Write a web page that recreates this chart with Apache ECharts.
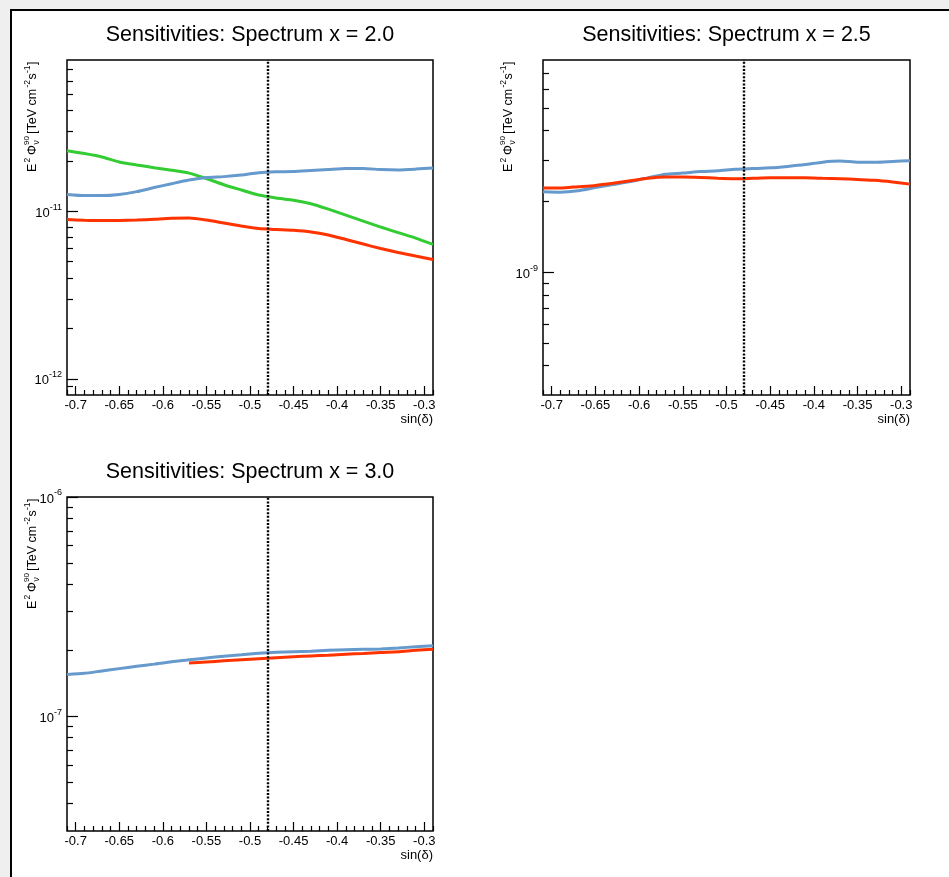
<!DOCTYPE html>
<html>
<head>
<meta charset="utf-8">
<script src="https://cdn.jsdelivr.net/npm/echarts@6/dist/echarts.min.js"></script>
<style>
html,body{margin:0;padding:0;background:#efefef;}
#main{width:949px;height:877px;}
</style>
</head>
<body>
<div id="main"></div>
<script>
// sin(dec) points the curves were read at
var sinDec = [-0.71,-0.69,-0.67,-0.65,-0.63,-0.61,-0.59,-0.57,-0.55,-0.53,-0.51,
              -0.49,-0.47,-0.45,-0.43,-0.41,-0.39,-0.37,-0.35,-0.33,-0.31,-0.29];

// spectrum x = 2.0
var x20Blue  = [1.26e-11,1.24e-11,1.24e-11,1.26e-11,1.31e-11,1.385e-11,1.46e-11,1.535e-11,1.59e-11,1.61e-11,1.645e-11,
                1.70e-11,1.72e-11,1.725e-11,1.75e-11,1.775e-11,1.80e-11,1.80e-11,1.775e-11,1.765e-11,1.785e-11,1.815e-11];
var x20Green = [2.30e-11,2.21e-11,2.11e-11,1.97e-11,1.89e-11,1.82e-11,1.76e-11,1.69e-11,1.57e-11,1.44e-11,1.34e-11,
                1.25e-11,1.20e-11,1.165e-11,1.11e-11,1.03e-11,9.49e-12,8.74e-12,8.05e-12,7.46e-12,6.92e-12,6.35e-12];
var x20Red   = [8.92e-12,8.84e-12,8.80e-12,8.82e-12,8.86e-12,8.96e-12,9.07e-12,9.11e-12,8.86e-12,8.50e-12,8.16e-12,
                7.88e-12,7.78e-12,7.70e-12,7.53e-12,7.21e-12,6.78e-12,6.37e-12,5.99e-12,5.67e-12,5.40e-12,5.15e-12];
// spectrum x = 2.5
var x25Blue  = [2.20e-9,2.19e-9,2.22e-9,2.29e-9,2.36e-9,2.43e-9,2.52e-9,2.61e-9,2.64e-9,2.68e-9,2.70e-9,
                2.74e-9,2.76e-9,2.78e-9,2.82e-9,2.87e-9,2.94e-9,2.97e-9,2.94e-9,2.94e-9,2.96e-9,2.98e-9];
var x25Red   = [2.28e-9,2.28e-9,2.31e-9,2.34e-9,2.39e-9,2.45e-9,2.51e-9,2.54e-9,2.54e-9,2.53e-9,2.51e-9,
                2.50e-9,2.51e-9,2.52e-9,2.52e-9,2.52e-9,2.51e-9,2.50e-9,2.48e-9,2.46e-9,2.42e-9,2.37e-9];
// spectrum x = 3.0
var x30Blue  = [1.55e-7,1.57e-7,1.61e-7,1.65e-7,1.69e-7,1.73e-7,1.775e-7,1.81e-7,1.845e-7,1.88e-7,1.91e-7,
                1.94e-7,1.96e-7,1.97e-7,1.98e-7,2.00e-7,2.01e-7,2.02e-7,2.03e-7,2.05e-7,2.075e-7,2.10e-7];
var x30Red   = [null,null,null,null,null,null,null,1.75e-7,1.77e-7,1.79e-7,1.81e-7,
                1.83e-7,1.85e-7,1.87e-7,1.885e-7,1.90e-7,1.92e-7,1.935e-7,1.955e-7,1.97e-7,2.00e-7,2.02e-7];

var xMajor = [-0.7,-0.65,-0.6,-0.55,-0.5,-0.45,-0.4,-0.35,-0.3];
var sourceDec = -0.4848;

var xMinor = [];
for (var k = -71; k <= -29; k++) {
	if (k % 5 !== 0) xMinor.push(k / 100);
}

function logMinors(lo, hi) {
	var out = [];
	for (var e = Math.floor(Math.log10(lo)); e <= Math.ceil(Math.log10(hi)); e++) {
		for (var m = 2; m <= 9; m++) {
			var v = m * Math.pow(10, e);
			if (v > lo * 1.001 && v < hi * 0.999) out.push(v);
		}
	}
	return out;
}

var font = 'Liberation Sans, Arial, Helvetica, sans-serif';
var BLUE = '#6699cc', GREEN = '#33cc33', RED = '#ff3300';

var panels = [
	{title: 'Sensitivities: Spectrum x = 2.0', left: 67, top: 60, width: 366, height: 335,
	 yMin: 8e-13, yMax: 8e-11, yMajor: [1e-12, 1e-11],
	 lines: [[x20Green, GREEN], [x20Red, RED], [x20Blue, BLUE]]},
	{title: 'Sensitivities: Spectrum x = 2.5', left: 543, top: 60, width: 367, height: 335,
	 yMin: 3e-10, yMax: 8e-9, yMajor: [1e-9],
	 lines: [[x25Blue, BLUE], [x25Red, RED]]},
	{title: 'Sensitivities: Spectrum x = 3.0', left: 67, top: 497, width: 366, height: 334,
	 yMin: 3e-8, yMax: 1e-6, yMajor: [1e-7, 1e-6],
	 lines: [[x30Red, RED], [x30Blue, BLUE]]}
];

function yTitle(x, y) {
	function t(text, dx, dy, size) {
		return {type: 'text', x: dx, y: dy, silent: true,
			style: {text: text, fontSize: size, fontFamily: font, fill: '#000', verticalAlign: 'middle', align: 'left'}};
	}
	return {type: 'group', x: x, y: y, rotation: Math.PI / 2, silent: true, children: [
		t('E', 0, 0, 12.5), t('2', 9.5, -5, 8.5), t('Φ', 17, 0, 12.5), t('90', 27, -6, 8), t('ν', 27.5, 4, 8.5),
		t('[TeV cm', 38, 0, 12.5), t('-2', 84.5, -5, 8.5), t('s', 92.5, 0, 12.5), t('-1', 99, -5, 8.5), t(']', 107, 0, 12.5)
	]};
}

var option = {
	backgroundColor: '#efefef',
	animation: false,
	title: [], grid: [], xAxis: [], yAxis: [], series: [],
	graphic: [{type: 'rect', z: -10, silent: true, shape: {x: 11, y: 10, width: 980, height: 900},
		style: {fill: '#fff', stroke: '#000', lineWidth: 2}}]
};

panels.forEach(function (p, i) {
	option.grid.push({left: p.left, top: p.top, width: p.width, height: p.height,
		show: true, borderColor: '#000', borderWidth: 1.5, backgroundColor: '#fff'});
	option.title.push({text: p.title, left: p.left + p.width / 2, top: p.top - 36, textAlign: 'center', padding: 0,
		textStyle: {fontSize: 21.5, fontWeight: 'normal', fontFamily: font, color: '#000'}});

	// x axis: major ticks + labels, then minor ticks
	option.xAxis.push({type: 'value', gridIndex: i, min: -0.71, max: -0.29, position: 'bottom',
		axisLine: {show: false}, splitLine: {show: false},
		axisTick: {inside: true, length: 9, customValues: xMajor, lineStyle: {color: '#000', width: 1.2}},
		axisLabel: {customValues: xMajor, margin: 4, color: '#000', fontSize: 13, fontFamily: font,
			formatter: function (v) { return String(+(+v).toFixed(2)); }}});
	option.xAxis.push({type: 'value', gridIndex: i, min: -0.71, max: -0.29, position: 'bottom',
		axisLine: {show: false}, splitLine: {show: false}, axisLabel: {show: false},
		axisTick: {inside: true, length: 5, customValues: xMinor, lineStyle: {color: '#000', width: 1.2}}});

	// log y axis: decades + labels, then minor ticks
	option.yAxis.push({type: 'log', logBase: 10, gridIndex: i, min: p.yMin, max: p.yMax, position: 'left',
		axisLine: {show: false}, splitLine: {show: false},
		axisTick: {inside: true, length: 11, customValues: p.yMajor, lineStyle: {color: '#000', width: 1.2}},
		axisLabel: {customValues: p.yMajor, margin: 5, color: '#000',
			formatter: function (v) { return '{b|10}{s|' + Math.round(Math.log10(v)) + '}'; },
			rich: {b: {fontSize: 13, fontFamily: font, lineHeight: 17, verticalAlign: 'bottom', color: '#000'},
				s: {fontSize: 9, fontFamily: font, lineHeight: 10, verticalAlign: 'top', color: '#000'}}}});
	option.yAxis.push({type: 'log', logBase: 10, gridIndex: i, min: p.yMin, max: p.yMax, position: 'left',
		axisLine: {show: false}, splitLine: {show: false}, axisLabel: {show: false},
		axisTick: {inside: true, length: 6, customValues: logMinors(p.yMin, p.yMax), lineStyle: {color: '#000', width: 1.2}}});

	p.lines.forEach(function (ln, j) {
		var s = {type: 'line', xAxisIndex: 2 * i, yAxisIndex: 2 * i, showSymbol: false, smooth: 0.2,
			lineStyle: {color: ln[1], width: 3}, itemStyle: {color: ln[1]},
			data: sinDec.map(function (x, n) { return [x, ln[0][n] == null ? '-' : ln[0][n]]; })};
		if (j === 0) {
			s.markLine = {silent: true, symbol: ['none', 'none'], label: {show: false},
				lineStyle: {color: '#000', type: [2, 1.6], width: 2.4},
				data: [{xAxis: sourceDec}]};
		}
		option.series.push(s);
	});

	// axis titles
	option.graphic.push({type: 'text', silent: true, x: p.left + p.width, y: p.top + p.height + 24,
		style: {text: 'sin(δ)', fontSize: 13, fontFamily: font, fill: '#000', align: 'right', verticalAlign: 'middle'}});
	option.graphic.push(yTitle(p.left - 34, p.top + 112));
});

var chart = echarts.init(document.getElementById('main'));
chart.setOption(option);
</script>
</body>
</html>
